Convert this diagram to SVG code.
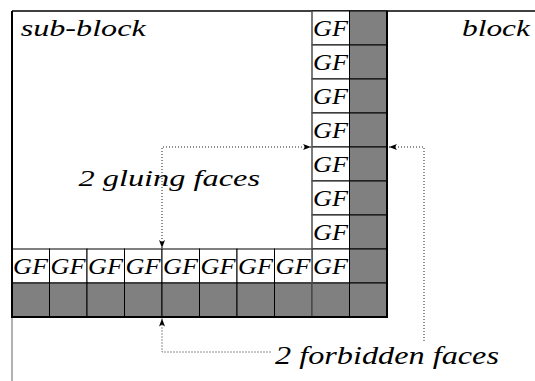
<svg xmlns="http://www.w3.org/2000/svg" width="535" height="381" viewBox="0 0 535 381">
  <defs>
    <style>
      .gf{fill:#fff;stroke:#000;stroke-width:1}
      .fb{fill:#808080;stroke:#000;stroke-width:1}
      .lbl{font-family:"Liberation Serif","Times New Roman",serif;font-style:italic;fill:#000}
      .gft{font-size:23px}
      .big{font-size:24px}
      .dot{fill:none;stroke:#222;stroke-width:1;stroke-dasharray:1 2}
    </style>
    <marker id="tip" markerUnits="userSpaceOnUse" markerWidth="8" markerHeight="6" refX="8" refY="3" orient="auto-start-reverse">
      <path d="M0,0 L8,3 L0,6 L2,3 z" fill="#000"/>
    </marker>
  </defs>
  <rect width="535" height="381" fill="#fff"/>

  <!-- enclosing block boundary -->
  <g id="block">
    <path d="M12,11 H535" stroke="#000" stroke-width="1.5" fill="none"/>
    <path d="M12,317 V381" stroke="#888" stroke-width="1.3" fill="none"/>
    <text class="lbl big" x="462" y="36" textLength="68" lengthAdjust="spacingAndGlyphs">block</text>
  </g>

  <!-- sub-block with its boundary faces -->
  <g id="sub-block">
    <text class="lbl big" x="20.7" y="36" textLength="125" lengthAdjust="spacingAndGlyphs">sub-block</text>

    <!-- gluing faces, vertical column -->
    <g id="gluing-column">
      <rect class="gf" x="312" y="11" width="37.5" height="34"/>
      <rect class="gf" x="312" y="45" width="37.5" height="34"/>
      <rect class="gf" x="312" y="79" width="37.5" height="34"/>
      <rect class="gf" x="312" y="113" width="37.5" height="34"/>
      <rect class="gf" x="312" y="147" width="37.5" height="34"/>
      <rect class="gf" x="312" y="181" width="37.5" height="34"/>
      <rect class="gf" x="312" y="215" width="37.5" height="34"/>
      <rect class="gf" x="312" y="249" width="37.5" height="34"/>
      <g class="lbl gft">
        <text x="313" y="36" textLength="35" lengthAdjust="spacingAndGlyphs">GF</text>
        <text x="313" y="70" textLength="35" lengthAdjust="spacingAndGlyphs">GF</text>
        <text x="313" y="104" textLength="35" lengthAdjust="spacingAndGlyphs">GF</text>
        <text x="313" y="138" textLength="35" lengthAdjust="spacingAndGlyphs">GF</text>
        <text x="313" y="172" textLength="35" lengthAdjust="spacingAndGlyphs">GF</text>
        <text x="313" y="206" textLength="35" lengthAdjust="spacingAndGlyphs">GF</text>
        <text x="313" y="240" textLength="35" lengthAdjust="spacingAndGlyphs">GF</text>
        <text x="313" y="274" textLength="35" lengthAdjust="spacingAndGlyphs">GF</text>
      </g>
    </g>

    <!-- gluing faces, horizontal row -->
    <g id="gluing-row">
      <rect class="gf" x="12" y="249" width="37.5" height="34"/>
      <rect class="gf" x="49.5" y="249" width="37.5" height="34"/>
      <rect class="gf" x="87" y="249" width="37.5" height="34"/>
      <rect class="gf" x="124.5" y="249" width="37.5" height="34"/>
      <rect class="gf" x="162" y="249" width="37.5" height="34"/>
      <rect class="gf" x="199.5" y="249" width="37.5" height="34"/>
      <rect class="gf" x="237" y="249" width="37.5" height="34"/>
      <rect class="gf" x="274.5" y="249" width="37.5" height="34"/>
      <g class="lbl gft">
        <text x="13" y="274" textLength="35" lengthAdjust="spacingAndGlyphs">GF</text>
        <text x="50.5" y="274" textLength="35" lengthAdjust="spacingAndGlyphs">GF</text>
        <text x="88" y="274" textLength="35" lengthAdjust="spacingAndGlyphs">GF</text>
        <text x="125.5" y="274" textLength="35" lengthAdjust="spacingAndGlyphs">GF</text>
        <text x="163" y="274" textLength="35" lengthAdjust="spacingAndGlyphs">GF</text>
        <text x="200.5" y="274" textLength="35" lengthAdjust="spacingAndGlyphs">GF</text>
        <text x="238" y="274" textLength="35" lengthAdjust="spacingAndGlyphs">GF</text>
        <text x="275.5" y="274" textLength="35" lengthAdjust="spacingAndGlyphs">GF</text>
      </g>
    </g>

    <!-- forbidden faces, vertical column -->
    <g id="forbidden-column">
      <rect class="fb" x="349.5" y="11" width="37.5" height="34"/>
      <rect class="fb" x="349.5" y="45" width="37.5" height="34"/>
      <rect class="fb" x="349.5" y="79" width="37.5" height="34"/>
      <rect class="fb" x="349.5" y="113" width="37.5" height="34"/>
      <rect class="fb" x="349.5" y="147" width="37.5" height="34"/>
      <rect class="fb" x="349.5" y="181" width="37.5" height="34"/>
      <rect class="fb" x="349.5" y="215" width="37.5" height="34"/>
      <rect class="fb" x="349.5" y="249" width="37.5" height="34"/>
      <rect class="fb" x="349.5" y="283" width="37.5" height="34"/>
    </g>

    <!-- forbidden faces, horizontal row -->
    <g id="forbidden-row">
      <rect class="fb" x="12" y="283" width="37.5" height="34"/>
      <rect class="fb" x="49.5" y="283" width="37.5" height="34"/>
      <rect class="fb" x="87" y="283" width="37.5" height="34"/>
      <rect class="fb" x="124.5" y="283" width="37.5" height="34"/>
      <rect class="fb" x="162" y="283" width="37.5" height="34"/>
      <rect class="fb" x="199.5" y="283" width="37.5" height="34"/>
      <rect class="fb" x="237" y="283" width="37.5" height="34"/>
      <rect class="fb" x="274.5" y="283" width="37.5" height="34"/>
      <rect class="fb" x="312" y="283" width="37.5" height="34"/>
    </g>

    <!-- sub-block outline -->
    <path d="M312,11 V317" stroke="#777" stroke-width="1" fill="none"/>
    <path d="M12,11 V317 H387 V11" stroke="#000" stroke-width="2" fill="none"/>
  </g>

  <!-- callout labels -->
  <g id="label-gluing">
    <text class="lbl big" x="78.5" y="186" textLength="181.5" lengthAdjust="spacingAndGlyphs">2 gluing faces</text>
  </g>
  <g id="label-forbidden">
    <text class="lbl" font-size="25" x="275" y="364" textLength="224" lengthAdjust="spacingAndGlyphs">2 forbidden faces</text>
  </g>

  <!-- dotted leaders -->
  <g id="connectors">
    <path class="dot" d="M162,248 V147 H311" marker-start="url(#tip)" marker-end="url(#tip)"/>
    <path class="dot" d="M389,147 H424 V342" marker-start="url(#tip)"/>
    <path class="dot" d="M162,318.5 V352 H272" marker-start="url(#tip)"/>
  </g>
</svg>
